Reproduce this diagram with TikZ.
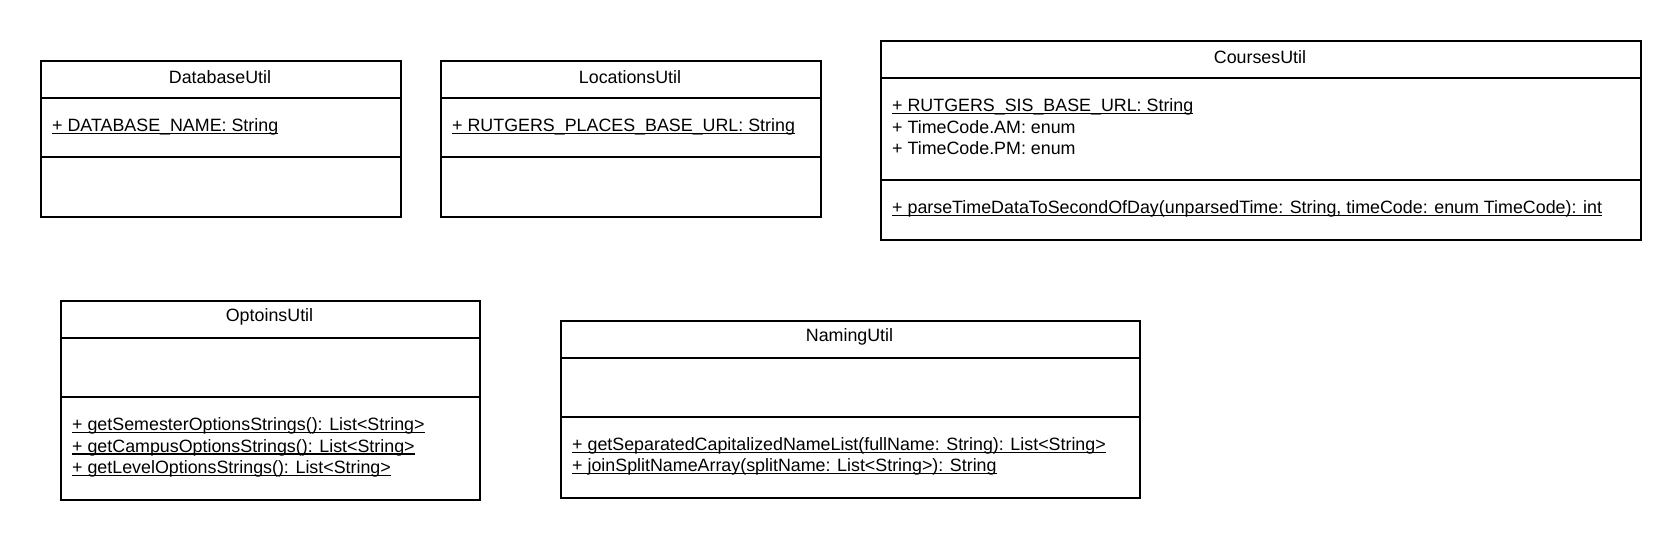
\documentclass[tikz,border=0pt]{standalone}
\usepackage{fontspec}
\setmainfont{Liberation Sans}
\newcommand\undl[1]{\setbox0\hbox{#1}\rlap{\rule[-2.4pt]{\wd0}{1.2pt}}\box0}
\begin{document}
\begin{tikzpicture}[x=1pt,y=-1pt,
  frame/.style={draw, line width=2pt, inner sep=0pt, anchor=north west},
  divider/.style={line width=2pt},
  title/.style={font=\fontsize{17.85}{21.4}\selectfont, inner sep=0pt},
  member/.style={font=\fontsize{17.85}{21.4}\selectfont, inner sep=0pt, anchor=west, align=left}]
\useasboundingbox (0,0) rectangle (1680,539);

% DatabaseUtil
\node[frame, minimum width=360, minimum height=156] (db) at (40,60) {};
\draw[divider] (db.west |- 0,98) -- (db.east |- 0,98);
\draw[divider] (db.west |- 0,157) -- (db.east |- 0,157);
\node[title] (dbt) at (220,77) {DatabaseUtil};
\node[member] (dba) at (52,127.5) {\undl{+ DATABASE\_NAME: String}\strut};

% LocationsUtil
\node[frame, minimum width=380, minimum height=156] (loc) at (440,60) {};
\draw[divider] (loc.west |- 0,98) -- (loc.east |- 0,98);
\draw[divider] (loc.west |- 0,157) -- (loc.east |- 0,157);
\node[title] (loct) at (630,77) {LocationsUtil};
\node[member] (loca) at (452,127.5) {\undl{+ RUTGERS\_PLACES\_BASE\_URL: String}\strut};

% CoursesUtil
\node[frame, minimum width=760, minimum height=199] (cu) at (880,40) {};
\draw[divider] (cu.west |- 0,78) -- (cu.east |- 0,78);
\draw[divider] (cu.west |- 0,180) -- (cu.east |- 0,180);
\node[title] (cut) at (1260,57) {CoursesUtil};
\node[member] (cua) at (892,129) {\undl{+ RUTGERS\_SIS\_BASE\_URL: String}\strut\\
  + TimeCode.AM: enum\strut\\
  + TimeCode.PM: enum\strut};
\node[member] (cum) at (892,209.5) {\undl{+ parseTimeDataToSecondOfDay(unparsedTime: String, timeCode: enum TimeCode): int}\strut};

% OptoinsUtil
\node[frame, minimum width=419, minimum height=199] (op) at (60,300) {};
\draw[divider] (op.west |- 0,338) -- (op.east |- 0,338);
\draw[divider] (op.west |- 0,397) -- (op.east |- 0,397);
\node[title] (opt) at (269.5,317) {OptoinsUtil};
\node[member] (opm) at (72,448) {\undl{+ getSemesterOptionsStrings(): List<String>}\strut\\
  \undl{+ getCampusOptionsStrings(): List<String>}\strut\\
  \undl{+ getLevelOptionsStrings(): List<String>}\strut};

% NamingUtil
\node[frame, minimum width=579, minimum height=177] (nu) at (560,320) {};
\draw[divider] (nu.west |- 0,358) -- (nu.east |- 0,358);
\draw[divider] (nu.west |- 0,417) -- (nu.east |- 0,417);
\node[title] (nut) at (849.5,337) {NamingUtil};
\node[member] (num) at (572,457) {\undl{+ getSeparatedCapitalizedNameList(fullName: String): List<String>}\strut\\
  \undl{+ joinSplitNameArray(splitName: List<String>): String}\strut};
\end{tikzpicture}
\end{document}
